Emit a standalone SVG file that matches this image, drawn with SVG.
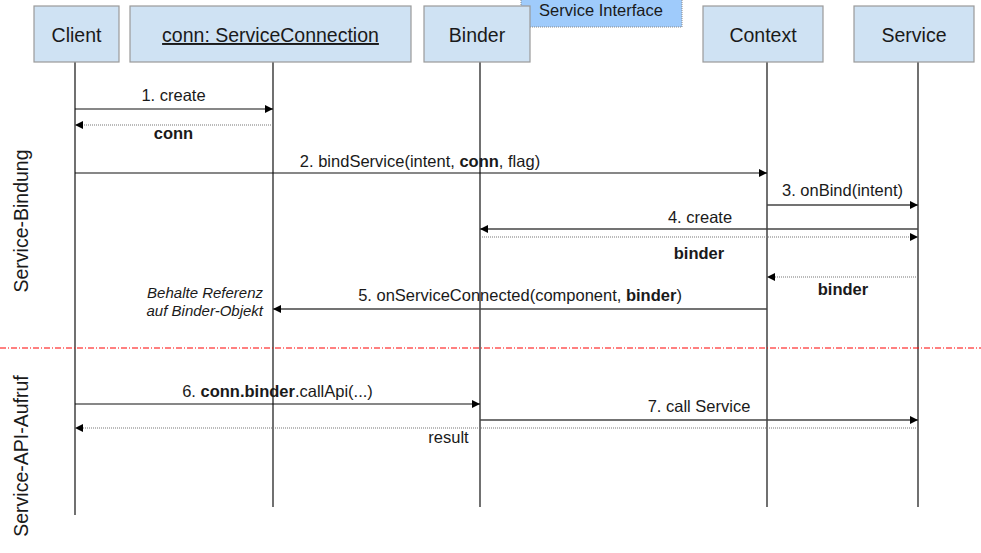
<svg xmlns="http://www.w3.org/2000/svg" width="981" height="553" viewBox="0 0 981 553">
<style>
text{font-family:"Liberation Sans",Arial,sans-serif;fill:#1a1a1a}
.box{fill:#cfe2f3;stroke:#9a9a9a;stroke-width:1.2}
.bl{font-size:19.5px;text-anchor:middle}
.life{stroke:#111;stroke-width:1.2;fill:none}
.msg{stroke:#111;stroke-width:1.2;fill:none}
.msg2{stroke:#444;stroke-width:1.5;fill:none}
.ret{stroke:#777;stroke-width:1.2;stroke-dasharray:1 1;fill:none}
.ml{font-size:16.5px;text-anchor:middle}
.note{font-size:15px;font-style:italic;text-anchor:end}
.side{font-size:19.5px;text-anchor:middle}
</style>
<defs>
<marker id="ah" markerUnits="userSpaceOnUse" markerWidth="10" markerHeight="10" refX="9" refY="5" orient="auto">
<path d="M1,1 L9,5 L1,9 Z" fill="#000"/>
</marker>
</defs>
<rect width="981" height="553" fill="#fff"/>

<g id="service-interface">
<rect x="521" y="-1" width="161" height="28" fill="#9fcbfb" stroke="#888" stroke-width="1" stroke-dasharray="1 1"/>
<text x="601" y="16" style="font-size:16.5px;text-anchor:middle">Service Interface</text>
</g>

<g id="lifelines">
<line class="life" x1="75" y1="62" x2="75" y2="515"/>
<line class="life" x1="273" y1="62" x2="273" y2="507"/>
<line class="life" x1="480" y1="62" x2="480" y2="507"/>
<line class="life" x1="767" y1="62" x2="767" y2="507"/>
<line class="life" x1="918" y1="62" x2="918" y2="507"/>
</g>

<g id="client"><rect class="box" x="34" y="6" width="85" height="56"/><text class="bl" x="76.5" y="42">Client</text></g>
<g id="conn"><rect class="box" x="130" y="6" width="281" height="56"/><text class="bl" x="270.5" y="42" text-decoration="underline">conn: ServiceConnection</text></g>
<g id="binder"><rect class="box" x="424" y="6" width="106" height="56"/><text class="bl" x="477" y="42">Binder</text></g>
<g id="context"><rect class="box" x="703" y="6" width="120" height="56"/><text class="bl" x="763" y="42">Context</text></g>
<g id="service"><rect class="box" x="854" y="6" width="120" height="56"/><text class="bl" x="914" y="42">Service</text></g>

<g id="separator">
<line x1="0" y1="348" x2="981" y2="348" stroke="#ff0000" stroke-width="1" stroke-dasharray="6 2 1 2"/>
</g>

<g id="connectors">
<line class="msg" x1="75" y1="109" x2="273" y2="109" marker-end="url(#ah)"/>
<line class="ret" x1="273" y1="125" x2="75" y2="125" marker-end="url(#ah)"/>
<line class="msg" x1="75" y1="173" x2="767" y2="173" marker-end="url(#ah)"/>
<line class="msg2" x1="767" y1="205" x2="918" y2="205" marker-end="url(#ah)"/>
<line class="msg2" x1="918" y1="229" x2="480" y2="229" marker-end="url(#ah)"/>
<line class="ret" x1="480" y1="237" x2="918" y2="237" marker-end="url(#ah)"/>
<line class="ret" x1="918" y1="277" x2="767" y2="277" marker-end="url(#ah)"/>
<line class="msg2" x1="767" y1="309" x2="273" y2="309" marker-end="url(#ah)"/>
<line class="msg" x1="75" y1="404" x2="480" y2="404" marker-end="url(#ah)"/>
<line class="msg2" x1="480" y1="420" x2="918" y2="420" marker-end="url(#ah)"/>
<line class="ret" x1="918" y1="428" x2="75" y2="428" marker-end="url(#ah)"/>
</g>

<g id="labels">
<text class="ml" x="173.5" y="101">1. create</text>
<text class="ml" x="173.5" y="139" font-weight="bold">conn</text>
<text class="ml" x="420" y="167">2. bindService(intent, <tspan font-weight="bold">conn</tspan>, flag)</text>
<text class="ml" x="842.5" y="196">3. onBind(intent)</text>
<text class="ml" x="700" y="223">4. create</text>
<text class="ml" x="699" y="259" font-weight="bold">binder</text>
<text class="ml" x="843" y="295" font-weight="bold">binder</text>
<text class="ml" x="520" y="301">5. onServiceConnected(component, <tspan font-weight="bold">binder</tspan>)</text>
<text class="note" x="263" y="298">Behalte Referenz</text>
<text class="note" x="263" y="316">auf Binder-Objekt</text>
<text class="ml" x="277.5" y="397">6. <tspan font-weight="bold">conn.binder</tspan>.callApi(...)</text>
<text class="ml" x="699" y="412">7. call Service</text>
<text class="ml" x="448.5" y="443">result</text>
<text class="side" transform="translate(28,221) rotate(-90)">Service-Bindung</text>
<text class="side" transform="translate(28,456) rotate(-90)">Service-API-Aufruf</text>
</g>
</svg>
